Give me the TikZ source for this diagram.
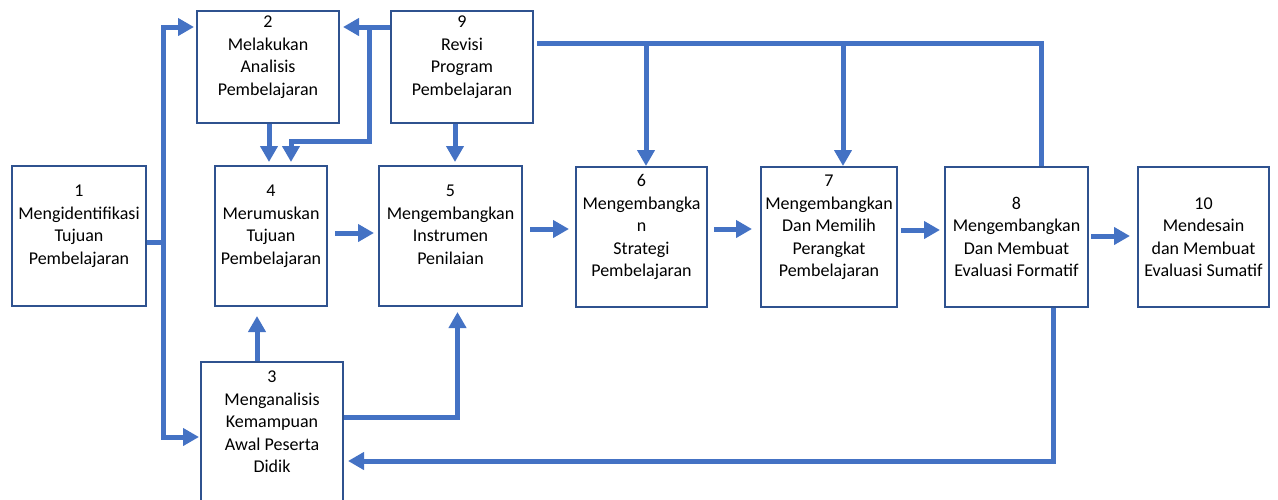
\documentclass[tikz,border=0pt]{standalone}
\usepackage{fontspec}
\setmainfont{Carlito}
\definecolor{BoxNavy}{HTML}{2F528F}
\definecolor{FlowBlue}{HTML}{4472C4}
\usetikzlibrary{arrows.meta, positioning}

\begin{document}
\begin{tikzpicture}[x=1pt, y=-1pt,
      box/.style={draw=BoxNavy, line width=2pt, fill=white, align=center,
         inner sep=2pt, font=\fontsize{18}{22.5}\selectfont},
      flow/.style={draw=FlowBlue, line width=5pt},
      flowarrow/.style={flow, -{Triangle[length=16pt, width=17pt]}}]
   \useasboundingbox (0,0) rectangle (1278,499);
   % Steps
   \node[box, minimum width=134pt, minimum height=140pt] (b1) at (79,236)
      {1\\Mengidentifikasi\\Tujuan\\Pembelajaran\\~};
   \node[box, minimum width=142pt, minimum height=112pt] (b2) at (268,67)
      {2\\Melakukan\\Analisis\\Pembelajaran\\~};
   \node[box, minimum width=142pt, minimum height=142pt] (b3) at (272,433)
      {3\\Menganalisis\\Kemampuan\\Awal Peserta\\Didik\\~};
   \node[box, minimum width=112pt, minimum height=140pt] (b4) at (271,236)
      {4\\Merumuskan\\Tujuan\\Pembelajaran\\~};
   \node[box, minimum width=143pt, minimum height=140pt] (b5) at (450.5,236)
      {5\\Mengembangkan\\Instrumen\\Penilaian\\~};
   \node[box, minimum width=131pt, minimum height=140pt] (b6) at (641.5,237)
      {6\\Mengembangka\\n\\Strategi\\Pembelajaran\\~};
   \node[box, minimum width=136pt, minimum height=140pt] (b7) at (829,237)
      {7\\Mengembangkan\\Dan Memilih\\Perangkat\\Pembelajaran\\~};
   \node[box, minimum width=143pt, minimum height=140pt] (b8) at (1016.5,237)
      {8\\Mengembangkan\\Dan Membuat\\Evaluasi Formatif};
   \node[box, minimum width=142pt, minimum height=112pt] (b9) at (462,67)
      {9\\Revisi\\Program\\Pembelajaran\\~};
   \node[box, minimum width=131pt, minimum height=140pt] (b10) at (1203.5,237)
      {10\\Mendesain\\dan Membuat\\Evaluasi Sumatif};
   % From 1 to 2 and 3
   \coordinate (split) at (163,242);
   \draw[flow] ([yshift=-6pt]b1.east) -- (split);
   \draw[flowarrow, shorten >=2pt] (split) |- ([yshift=40pt]b2.west);
   \draw[flowarrow, shorten >=1pt] (split) |- ([yshift=-4pt]b3.west);
   % 2 to 4
   \draw[flowarrow, shorten >=3pt] ([xshift=1pt]b2.south) -- ([xshift=1pt]b2.south |- b4.north);
   % 9 back to 2 and 4
   \draw[flowarrow, shorten >=3pt] ([yshift=40pt]b9.west) -- ([yshift=40pt]b2.east);
   \coordinate (back) at (369,27);
   \coordinate (backturn) at (369,141);
   \draw[flowarrow, shorten >=3pt] (back) -- (backturn) -| ([xshift=20pt]b4.north);
   % 9 to 5
   \draw[flowarrow, shorten >=3pt] ([xshift=-7pt]b9.south) -- ([xshift=-7pt]b9.south |- b5.north);
   % Top line from 8 to 9, dropping to 6 and 7
   \draw[flow, shorten >=3pt] ([xshift=25pt]b8.north) |- ([yshift=24pt]b9.east);
   \coordinate (drop6) at (646,43);
   \coordinate (drop7) at (843,43);
   \draw[flowarrow] (drop6) -- (drop6 |- b6.north);
   \draw[flowarrow] (drop7) -- (drop7 |- b7.north);
   % Forward chain
   \draw[flowarrow, shorten <=7pt, shorten >=4pt] ([yshift=3pt]b4.east) -- ([yshift=3pt]b5.west);
   \draw[flowarrow, shorten <=7pt, shorten >=6pt] ([yshift=7pt]b5.east) -- ([yshift=7pt]b5.east -| b6.west);
   \draw[flowarrow, shorten <=6pt, shorten >=8pt] ([yshift=8pt]b6.east) -- ([yshift=8pt]b7.west);
   \draw[flowarrow, shorten <=3pt, shorten >=4pt] ([yshift=7pt]b7.east) -- ([yshift=7pt]b8.west);
   \draw[flowarrow, shorten <=2pt, shorten >=7pt] ([yshift=1pt]b8.east) -- ([yshift=1pt]b10.west);
   % 3 to 4 and 5
   \draw[flowarrow, shorten >=9pt] ([xshift=-15pt]b3.north) -- ([xshift=-15pt]b3.north |- b4.south);
   \draw[flowarrow, shorten >=5pt] ([yshift=16pt]b3.east) -| ([xshift=7pt]b5.south);
   % 8 back to 3
   \draw[flowarrow, shorten >=4pt] ([xshift=37pt]b8.south) |- ([yshift=-28pt]b3.east);
\end{tikzpicture}
\end{document}
